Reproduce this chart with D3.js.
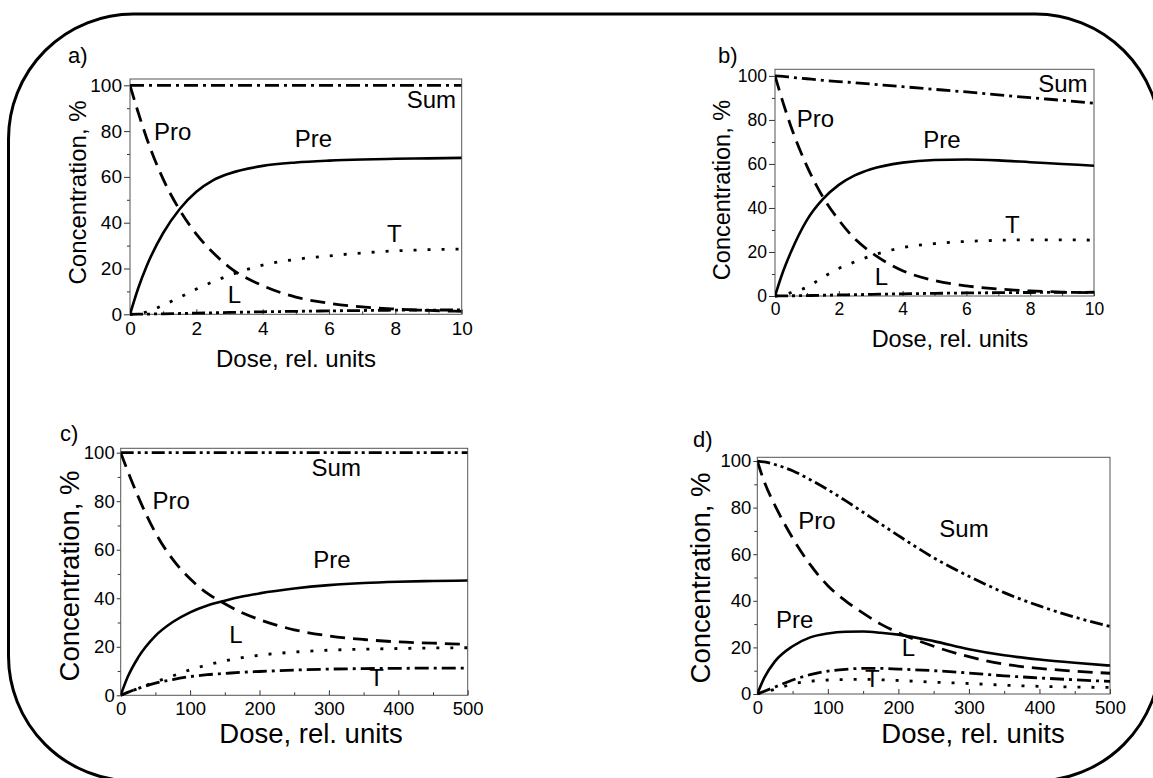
<!DOCTYPE html>
<html>
<head>
<meta charset="utf-8">
<script src="https://cdn.jsdelivr.net/npm/d3@7"></script>
<style>
  html, body { margin: 0; padding: 0; background: #fff; }
  svg { display: block; font-family: "Liberation Sans", Arial, sans-serif; }
</style>
</head>
<body>
<svg id="chart" width="1153" height="778"></svg>
<script>
// dose grids
const doseShort = [0, 0.25, 0.5, 1, 1.5, 2, 2.5, 3, 4, 5, 6, 7, 8, 9, 10];
const doseLong = [0, 10, 25, 50, 75, 100, 125, 150, 175, 200, 250, 300, 350, 400, 450, 500];

// panel a
const aSum = [100, 100, 100, 100, 100, 100, 100, 100, 100, 100, 100, 100, 100, 100, 100];
const aPre = [0, 11.5, 21, 35.5, 46, 53.5, 58.5, 61.5, 64.8, 66.3, 67.1, 67.6, 67.9, 68.1, 68.3];
const aPro = [100, 88, 77, 59, 45.5, 35, 27, 20.5, 12.5, 7.5, 4.8, 3.2, 2.3, 1.7, 1.3];
const aT = [0, 0.3, 1, 4, 7.4, 11, 14.2, 17, 21.5, 24, 25.5, 26.8, 27.7, 28.2, 28.5];
const aL = [0, 0.05, 0.1, 0.2, 0.35, 0.5, 0.65, 0.8, 1.1, 1.3, 1.5, 1.65, 1.8, 1.85, 1.9];

// panel b
const bSum = [100, 99.8, 99.4, 98.7, 98, 97.4, 96.9, 96.3, 95.1, 93.9, 92.7, 91.4, 90.1, 88.9, 87.6];
const bPre = [0, 11, 20, 34.5, 44, 50.5, 54.8, 57.6, 60.6, 61.8, 62, 61.6, 60.8, 60, 59.2];
const bPro = [100, 88, 77, 59, 45, 34.5, 26, 20, 11.5, 7, 4.6, 3.2, 2.3, 1.8, 1.5];
const bT = [0, 0.5, 1.5, 4, 8.5, 12.5, 15.5, 18.2, 22, 23.8, 24.8, 25.3, 25.5, 25.5, 25.4];
const bL = [0, 0.05, 0.1, 0.2, 0.35, 0.5, 0.6, 0.75, 1, 1.2, 1.4, 1.5, 1.6, 1.65, 1.7];

// panel c
const cSum = [100, 100, 100, 100, 100, 100, 100, 100, 100, 100, 100, 100, 100, 100, 100, 100];
const cPre = [0, 7.5, 15.5, 24.5, 30.2, 34.2, 37, 39, 40.7, 42, 44, 45.4, 46.3, 46.8, 47.1, 47.3];
const cPro = [100, 92.5, 82, 67, 56, 48, 42, 37.7, 34, 31.2, 27, 24.5, 23, 22, 21.5, 21];
const cL = [0, 1.2, 2.8, 5.5, 8, 10.5, 12.5, 14.2, 15.5, 16.5, 17.8, 18.6, 19, 19.3, 19.5, 19.6];
const cT = [0, 1.2, 2.8, 5, 6.5, 7.7, 8.5, 9, 9.5, 9.8, 10.4, 10.8, 11, 11.1, 11.2, 11.2];

// panel d
const dSum = [100, 99.6, 98.5, 95.8, 92, 87.7, 83, 78, 73, 68, 58.5, 50.5, 43.5, 37.8, 33, 29];
const dPro = [100, 91, 81, 67, 55.5, 46.5, 40, 34.7, 30, 26.3, 20.5, 16, 12.8, 11, 9.8, 8.9];
const dPre = [0, 7, 14, 20.5, 24.3, 26, 26.7, 26.8, 26.3, 25.5, 22.7, 19.2, 16.6, 14.8, 13.4, 12.2];
const dL = [0, 1.2, 3, 6, 8.3, 9.8, 10.6, 11, 11, 10.7, 10, 9, 7.8, 6.9, 6.1, 5.4];
const dT = [0, 0.8, 2, 4.3, 5.5, 6, 6.2, 6.3, 6.1, 5.8, 5.1, 4.5, 3.8, 3.3, 3, 2.8];

// tick labels
const yTicks = [0, 20, 40, 60, 80, 100];
const xTicksShort = [0, 2, 4, 6, 8, 10];
const xTicksLong = [0, 100, 200, 300, 400, 500];

// line styles
const SOLID = null;
const DASH = "15 8";
const DOT = "3 11";
const DASHDOT = "14 5 3 5";
const DASHDOTDOT = "13 4 3 4 3 4";

const panels = [
  {
    tag: "a)", dose: doseShort, xTicks: xTicksShort, xMax: 10, minorX: 1,
    box: { left: 130, right: 461.7, bottom: 314.3, top: 79, yTop: 102.75 },
    tickFont: 19, titleFont: 24, yTick: 6,
    tagPos: [68, 63], xTitle: [296, 367], yTitle: [86, 192.5],
    series: [
      { v: aSum, dash: DASHDOT, name: "Sum", at: [8.34, 90.1] },
      { v: aPre, dash: SOLID, name: "Pre", at: [4.97, 73.2] },
      { v: aPro, dash: DASH, name: "Pro", at: [0.72, 76.1] },
      { v: aT, dash: DOT, name: "T", at: [7.75, 31.7] },
      { v: aL, dash: DASHDOTDOT, name: "L", at: [2.95, 4.8] }
    ]
  },
  {
    tag: "b)", dose: doseShort, xTicks: xTicksShort, xMax: 10, minorX: 1,
    box: { left: 775, right: 1094, bottom: 296, top: 69.3, yTop: 103 },
    tickFont: 17.5, titleFont: 23.5, yTick: 6,
    tagPos: [718, 63], xTitle: [950, 347], yTitle: [730, 190],
    series: [
      { v: bSum, dash: DASHDOT, name: "Sum", at: [8.25, 92.9] },
      { v: bPre, dash: SOLID, name: "Pre", at: [4.65, 67.4] },
      { v: bPro, dash: DASH, name: "Pro", at: [0.68, 76.7] },
      { v: bT, dash: DOT, name: "T", at: [7.21, 28.5] },
      { v: bL, dash: DASHDOTDOT, name: "L", at: [3.13, 5] }
    ]
  },
  {
    tag: "c)", dose: doseLong, xTicks: xTicksLong, xMax: 500, minorX: 50,
    box: { left: 120.7, right: 467.7, bottom: 695.3, top: 448.3, yTop: 101.8 },
    tickFont: 18.5, titleFont: 27.5, yTick: 4,
    tagPos: [60, 441], xTitle: [311, 743], yTitle: [78.5, 576],
    series: [
      { v: cSum, dash: DASHDOTDOT, name: "Sum", at: [275, 90.4] },
      { v: cPre, dash: SOLID, name: "Pre", at: [277.5, 52.3] },
      { v: cPro, dash: DASH, name: "Pro", at: [46, 76.8] },
      { v: cL, dash: DOT, name: "L", at: [156.5, 21.4] },
      { v: cT, dash: DASHDOT, name: "T", at: [358, 3.8] }
    ]
  },
  {
    tag: "d)", dose: doseLong, xTicks: xTicksLong, xMax: 500, minorX: 50,
    box: { left: 757.3, right: 1110, bottom: 694, top: 457.3, yTop: 101.6 },
    tickFont: 18.5, titleFont: 27.5, yTick: 4,
    tagPos: [693, 447], xTitle: [973, 743], yTitle: [710, 578],
    series: [
      { v: dSum, dash: DASHDOTDOT, name: "Sum", at: [258, 67.5] },
      { v: dPre, dash: SOLID, name: "Pre", at: [26.5, 28.2] },
      { v: dPro, dash: DASH, name: "Pro", at: [58, 70.7] },
      { v: dL, dash: DASHDOT, name: "L", at: [204.7, 16.4] },
      { v: dT, dash: DOT, name: "T", at: [152.7, 3.1] }
    ]
  }
];

const svg = d3.select("#chart");

// rounded outer frame
svg.append("rect")
  .attr("x", 8.5).attr("y", 14)
  .attr("width", 1152).attr("height", 767)
  .attr("rx", 125).attr("ry", 125)
  .attr("fill", "none")
  .attr("stroke", "#000")
  .attr("stroke-width", 3);

panels.forEach((p, i) => {
  const b = p.box;
  const x = d3.scaleLinear().domain([0, p.xMax]).range([b.left, b.right]);
  const y = d3.scaleLinear().domain([0, b.yTop]).range([b.bottom, b.top]);
  const g = svg.append("g");

  g.append("clipPath").attr("id", "clip" + i)
    .append("rect")
    .attr("x", b.left).attr("y", b.top - 2)
    .attr("width", b.right - b.left).attr("height", b.bottom - b.top + 4);

  // minor ticks
  const minorY = d3.range(10, 101, 20);
  g.append("g")
    .attr("transform", `translate(${b.left},0)`)
    .call(d3.axisLeft(y).tickValues(minorY).tickSize(3).tickFormat(""))
    .call(s => s.select(".domain").remove());
  const minorXs = d3.range(p.minorX, p.xMax, p.minorX * 2);
  g.append("g")
    .attr("transform", `translate(0,${b.bottom})`)
    .call(d3.axisBottom(x).tickValues(minorXs).tickSize(-3).tickFormat(""))
    .call(s => s.select(".domain").remove());

  // major axes
  const yAxis = g.append("g")
    .attr("transform", `translate(${b.left},0)`)
    .call(d3.axisLeft(y).tickValues(yTicks).tickSize(p.yTick).tickPadding(2));
  const xAxis = g.append("g")
    .attr("transform", `translate(0,${b.bottom})`)
    .call(d3.axisBottom(x).tickValues(p.xTicks).tickSize(-5).tickPadding(8));
  [yAxis, xAxis].forEach(ax => {
    ax.select(".domain").remove();
    ax.selectAll("text")
      .attr("font-family", "Liberation Sans, Arial, sans-serif")
      .attr("font-size", p.tickFont)
      .attr("fill", "#000");
  });
  g.selectAll(".tick line").attr("stroke", "#333");
  xAxis.selectAll("text").attr("y", 7).attr("dy", "0.71em");

  // plot frame
  g.append("rect")
    .attr("x", b.left).attr("y", b.top)
    .attr("width", b.right - b.left).attr("height", b.bottom - b.top)
    .attr("fill", "none").attr("stroke", "#555").attr("stroke-width", 1);

  // curves
  const line = d3.line()
    .x((d, j) => x(p.dose[j]))
    .y(d => y(d))
    .curve(d3.curveMonotoneX);

  const curves = g.append("g").attr("clip-path", `url(#clip${i})`);
  p.series.forEach(s => {
    curves.append("path")
      .datum(s.v)
      .attr("d", line)
      .attr("fill", "none")
      .attr("stroke", "#000")
      .attr("stroke-width", s.dash ? 2.8 : 2.6)
      .attr("stroke-dasharray", s.dash);
  });

  // series labels
  p.series.forEach(s => {
    g.append("text")
      .attr("x", x(s.at[0]))
      .attr("y", y(s.at[1]))
      .attr("font-size", 24)
      .text(s.name);
  });

  // panel tag
  svg.append("text")
    .attr("x", p.tagPos[0]).attr("y", p.tagPos[1])
    .attr("font-size", 22)
    .text(p.tag);

  // axis titles
  svg.append("text")
    .attr("x", p.xTitle[0]).attr("y", p.xTitle[1])
    .attr("text-anchor", "middle")
    .attr("font-size", p.titleFont)
    .text("Dose, rel. units");
  svg.append("text")
    .attr("transform", `translate(${p.yTitle[0]},${p.yTitle[1]}) rotate(-90)`)
    .attr("text-anchor", "middle")
    .attr("font-size", p.titleFont)
    .text("Concentration, %");
});
</script>
</body>
</html>
